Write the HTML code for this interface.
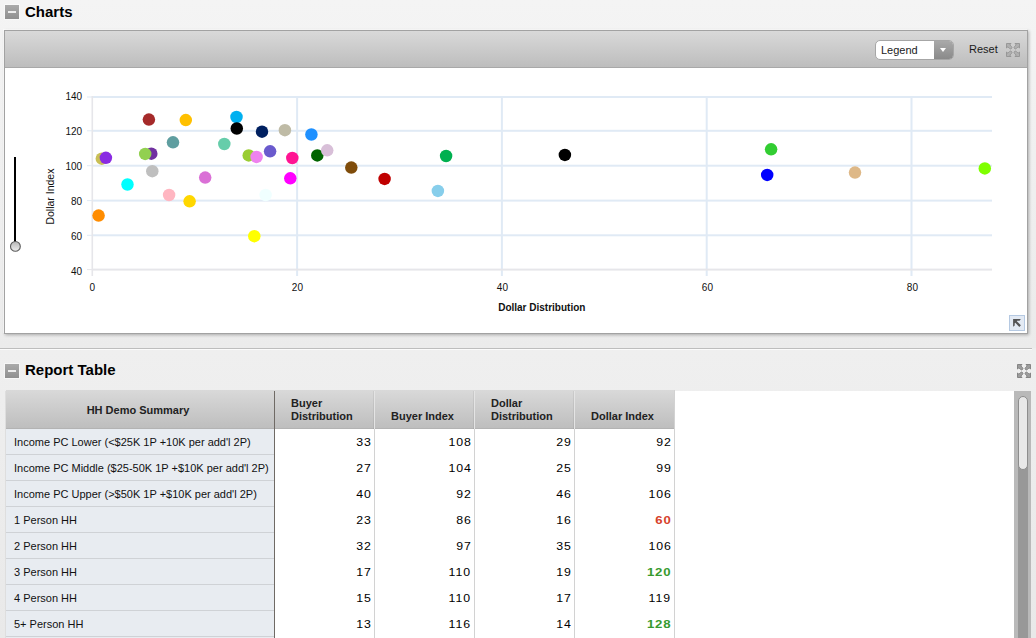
<!DOCTYPE html>
<html><head><meta charset="utf-8">
<style>
*{box-sizing:border-box;margin:0;padding:0}
html,body{width:1036px;height:638px;overflow:hidden}
body{position:relative;font-family:"Liberation Sans",sans-serif;color:#1a1a1a;background:#eeeeee}
.abs{position:absolute}
#topbg{left:0;top:0;width:1036px;height:348px;background:linear-gradient(#f4f4f4,#ebebeb)}
#botbg{left:0;top:350px;width:1036px;height:288px;background:linear-gradient(#efefef,#e9e9e9)}
.minus{position:absolute;width:14px;height:14px;background:linear-gradient(#aaaaaa,#8f8f8f);box-shadow:0 0 0 1px rgba(255,255,255,.45)}
.minus:after{content:"";position:absolute;left:3px;top:6px;width:8px;height:2px;background:#ececec}
.h1{position:absolute;font-weight:bold;font-size:15px;line-height:15px;color:#000;white-space:nowrap}
#panel{left:4px;top:30px;width:1024px;height:304px;border:1px solid #a2a2a2;background:#fff;box-shadow:-1px -1px 0 rgba(255,255,255,.55),1px 1px 3px rgba(0,0,0,.28)}
#phead{position:absolute;left:0;top:0;width:1022px;height:37px;border-bottom:1px solid #a8a8a8;background:linear-gradient(#d9d9d9,#bdbdbd)}
#legend{left:875px;top:40px;width:79px;height:20px;border:1px solid #a6a6a6;border-radius:5px;background:#fff;overflow:hidden}
#legend .btn{position:absolute;right:0;top:0;width:19px;height:18px;background:linear-gradient(#a9a9a9,#8a8a8a)}
#legend .tri{position:absolute;left:6px;top:7px;width:0;height:0;border-left:3.5px solid transparent;border-right:3.5px solid transparent;border-top:4px solid #fff}
#legend .txt{position:absolute;left:5px;top:3px;font-size:11px;line-height:12px;color:#1a1a1a}
.t11{position:absolute;font-size:11px;line-height:12px;white-space:nowrap}
#sep{left:0;top:348px;width:1032px;height:1px;background:#bdbdbd}
#sep2{left:0;top:349px;width:1032px;height:1px;background:#fbfbfb}
.thead{background:linear-gradient(#d9d9d9,#bebebe);border-bottom:1px solid #b3b3b3}
.th{position:absolute;font-weight:bold;font-size:11px;line-height:13px;color:#222;white-space:nowrap}
.td{position:absolute;font-size:11px;line-height:12px;color:#111;white-space:nowrap}
.num{position:absolute;font-size:11px;line-height:12px;color:#000;white-space:nowrap;letter-spacing:0.8px;transform:scaleX(1.12);transform-origin:100% 50%}
.num.bad{color:#d6412a;font-weight:bold;letter-spacing:0.7px;transform:scaleX(1.2)}
.num.good{color:#379a2e;font-weight:bold;letter-spacing:0.7px;transform:scaleX(1.2)}
</style></head>
<body>
<div id="topbg" class="abs"></div>
<div id="botbg" class="abs"></div>
<div class="minus" style="left:5px;top:5px"></div>
<div class="h1" style="left:25px;top:4px">Charts</div>

<div id="panel" class="abs"><div id="phead"></div></div>
<!--CHART-->
<svg class="abs" style="left:0;top:0" width="1036" height="340">
<rect x="92" y="96.00" width="900" height="2" fill="#e0eaf5"/>
<rect x="87" y="96.50" width="5" height="1" fill="#e0eaf5"/>
<rect x="92" y="129.80" width="900" height="2" fill="#e0eaf5"/>
<rect x="87" y="130.30" width="5" height="1" fill="#e0eaf5"/>
<rect x="92" y="164.70" width="900" height="2" fill="#e0eaf5"/>
<rect x="87" y="165.20" width="5" height="1" fill="#e0eaf5"/>
<rect x="92" y="199.60" width="900" height="2" fill="#e0eaf5"/>
<rect x="87" y="200.10" width="5" height="1" fill="#e0eaf5"/>
<rect x="92" y="234.30" width="900" height="2" fill="#e0eaf5"/>
<rect x="87" y="234.80" width="5" height="1" fill="#e0eaf5"/>
<rect x="296.10" y="96" width="2" height="180" fill="#e0eaf5"/>
<rect x="500.90" y="96" width="2" height="180" fill="#e0eaf5"/>
<rect x="705.70" y="96" width="2" height="180" fill="#e0eaf5"/>
<rect x="910.50" y="96" width="2" height="180" fill="#e0eaf5"/>
<rect x="92" y="268.60" width="900" height="2" fill="#e6e6ea"/>
<rect x="87" y="269.10" width="5" height="1" fill="#e6e6ea"/>
<rect x="91.5" y="96" width="1.6" height="180" fill="#e6e6ea"/>
<text x="82.2" y="99.60" text-anchor="end" font-size="10" fill="#111">140</text>
<text x="82.2" y="134.60" text-anchor="end" font-size="10" fill="#111">120</text>
<text x="82.2" y="169.60" text-anchor="end" font-size="10" fill="#111">100</text>
<text x="82.2" y="204.60" text-anchor="end" font-size="10" fill="#111">80</text>
<text x="82.2" y="239.60" text-anchor="end" font-size="10" fill="#111">60</text>
<text x="82.2" y="274.60" text-anchor="end" font-size="10" fill="#111">40</text>
<text x="92.40" y="290.5" text-anchor="middle" font-size="10" fill="#111">0</text>
<text x="297.40" y="290.5" text-anchor="middle" font-size="10" fill="#111">20</text>
<text x="502.40" y="290.5" text-anchor="middle" font-size="10" fill="#111">40</text>
<text x="707.40" y="290.5" text-anchor="middle" font-size="10" fill="#111">60</text>
<text x="912.40" y="290.5" text-anchor="middle" font-size="10" fill="#111">80</text>
<text x="541.8" y="310.8" text-anchor="middle" font-size="10" font-weight="bold" fill="#111">Dollar Distribution</text>
<text transform="translate(53.9,196.6) rotate(-90)" text-anchor="middle" font-size="10.5" fill="#111">Dollar Index</text>
<circle cx="98.6" cy="215.6" r="6.25" fill="#ff8c00"/>
<circle cx="101.8" cy="158.7" r="6.25" fill="#c9bf55"/>
<circle cx="105.9" cy="157.8" r="6.25" fill="#8a2be2"/>
<circle cx="127.5" cy="184.5" r="6.25" fill="#00ffff"/>
<circle cx="151.3" cy="153.7" r="6.25" fill="#7030a0"/>
<circle cx="145.2" cy="153.9" r="6.25" fill="#92d050"/>
<circle cx="148.9" cy="119.6" r="6.25" fill="#a52a2a"/>
<circle cx="152.3" cy="171.2" r="6.25" fill="#bfbfbf"/>
<circle cx="169.1" cy="195.0" r="6.25" fill="#ffb6c1"/>
<circle cx="173.0" cy="142.3" r="6.25" fill="#5f9ea0"/>
<circle cx="185.8" cy="120.1" r="6.25" fill="#ffc000"/>
<circle cx="189.6" cy="201.3" r="6.25" fill="#ffd700"/>
<circle cx="205.2" cy="177.6" r="6.25" fill="#da70d6"/>
<circle cx="224.3" cy="144.0" r="6.25" fill="#66cdaa"/>
<circle cx="236.5" cy="117.0" r="6.25" fill="#00b0f0"/>
<circle cx="236.8" cy="128.5" r="6.25" fill="#000000"/>
<circle cx="248.7" cy="155.4" r="6.25" fill="#9acd32"/>
<circle cx="254.3" cy="236.2" r="6.25" fill="#ffff00"/>
<circle cx="256.6" cy="156.9" r="6.25" fill="#ee82ee"/>
<circle cx="262.0" cy="131.7" r="6.25" fill="#002060"/>
<circle cx="265.6" cy="195.0" r="6.25" fill="#f0ffff"/>
<circle cx="270.1" cy="151.3" r="6.25" fill="#6a5acd"/>
<circle cx="284.9" cy="130.2" r="6.25" fill="#bfbba6"/>
<circle cx="290.3" cy="178.3" r="6.25" fill="#ff00ff"/>
<circle cx="292.3" cy="158.0" r="6.25" fill="#ff1493"/>
<circle cx="311.4" cy="134.5" r="6.25" fill="#1e90ff"/>
<circle cx="317.3" cy="155.4" r="6.25" fill="#006400"/>
<circle cx="327.2" cy="150.3" r="6.25" fill="#d8bfd8"/>
<circle cx="351.3" cy="167.6" r="6.25" fill="#7f4c0a"/>
<circle cx="384.6" cy="178.9" r="6.25" fill="#c00000"/>
<circle cx="437.9" cy="190.9" r="6.25" fill="#87ceeb"/>
<circle cx="446.1" cy="156.0" r="6.25" fill="#00b050"/>
<circle cx="564.9" cy="154.9" r="6.25" fill="#000000"/>
<circle cx="767.2" cy="174.9" r="6.25" fill="#0000ff"/>
<circle cx="771.1" cy="149.3" r="6.25" fill="#32cd32"/>
<circle cx="855.0" cy="172.6" r="6.25" fill="#deb887"/>
<circle cx="984.8" cy="168.4" r="6.25" fill="#7fff00"/>
<rect x="14" y="157" width="2" height="85" fill="#000"/>
<defs><linearGradient id="kg" x1="0" y1="0" x2="0" y2="1"><stop offset="0" stop-color="#b5b5b5"/><stop offset="1" stop-color="#efefef"/></linearGradient></defs>
<circle cx="15.4" cy="246.4" r="4.9" fill="url(#kg)" stroke="#5a5a5a" stroke-width="1.1"/>
</svg>
<!--/CHART-->

<div id="legend" class="abs"><div class="txt">Legend</div><div class="btn"><div class="tri"></div></div></div>
<div class="t11" style="left:969px;top:43px;color:#1a1a1a">Reset</div>

<div id="sep" class="abs"></div>
<div id="sep2" class="abs"></div>

<div class="minus" style="left:5px;top:364px"></div>
<div class="h1" style="left:25px;top:362px">Report Table</div>

<!--ICONS-->
<svg class="abs" style="left:1006px;top:43px" width="14" height="14" viewBox="0 0 14 14">
<defs><path id="arr" d="M0.5 0.5H5L3.8 1.9L5.6 3.7A1.35 1.35 0 0 1 3.7 5.6L1.9 3.8L0.5 5Z"/></defs>
<g fill="#b0b0b0" stroke="#939393" stroke-width="0.9" stroke-linejoin="round">
<use href="#arr"/><use href="#arr" transform="matrix(-1 0 0 1 14 0)"/><use href="#arr" transform="matrix(1 0 0 -1 0 14)"/><use href="#arr" transform="matrix(-1 0 0 -1 14 14)"/>
</g></svg>
<svg class="abs" style="left:1017px;top:364px" width="14" height="14" viewBox="0 0 14 14">
<g fill="#9c9c9c" stroke="#7e7e7e" stroke-width="0.9" stroke-linejoin="round">
<use href="#arr"/><use href="#arr" transform="matrix(-1 0 0 1 14 0)"/><use href="#arr" transform="matrix(1 0 0 -1 0 14)"/><use href="#arr" transform="matrix(-1 0 0 -1 14 14)"/>
</g></svg>
<div class="abs" style="left:1009px;top:315px;width:16px;height:16px;border:1px solid #b5c9e2;background:#e3eaf4"></div>
<svg class="abs" style="left:1009px;top:315px" width="16" height="16" viewBox="0 0 16 16">
<path d="M4.1 4.1H11.8L10.6 5.7H5.7V10.6L4.1 11.8Z M5.7 5.7H8.2L5.7 8.2Z" fill="#555"/><path d="M6.3 6.3L11.1 11.1" stroke="#555" stroke-width="2.2"/>
</svg>

<!--/ICONS-->
<!--TABLE-->
<div class="abs" style="left:5px;top:391px;width:1009px;height:247px;background:#fff;border-left:1px solid #dedede"></div>
<div class="abs thead" style="left:6px;top:390px;width:668px;height:39px"></div>
<div class="abs" style="left:373px;top:391px;width:1px;height:38px;background:rgba(0,0,0,.06)"></div>
<div class="abs" style="left:374px;top:391px;width:1px;height:38px;background:#e4e4e4"></div>
<div class="abs" style="left:473px;top:391px;width:1px;height:38px;background:rgba(0,0,0,.06)"></div>
<div class="abs" style="left:474px;top:391px;width:1px;height:38px;background:#e4e4e4"></div>
<div class="abs" style="left:573px;top:391px;width:1px;height:38px;background:rgba(0,0,0,.06)"></div>
<div class="abs" style="left:574px;top:391px;width:1px;height:38px;background:#e4e4e4"></div>
<div class="abs" style="left:674px;top:390px;width:1px;height:248px;background:#d2d2d2"></div>
<div class="abs" style="left:6px;top:429px;width:268px;height:209px;background:#e8ecf1"></div>
<div class="abs" style="left:374px;top:429px;width:1px;height:209px;background:#d2d2d2"></div>
<div class="abs" style="left:474px;top:429px;width:1px;height:209px;background:#d2d2d2"></div>
<div class="abs" style="left:574px;top:429px;width:1px;height:209px;background:#d2d2d2"></div>
<div class="abs" style="left:274px;top:391px;width:1px;height:247px;background:#6f6a65"></div>
<div class="th" style="left:4px;top:404px;width:268px;text-align:center">HH Demo Summary</div>
<div class="th" style="left:291px;top:397px">Buyer<br>Distribution</div>
<div class="th" style="left:391px;top:410px">Buyer Index</div>
<div class="th" style="left:491px;top:397px">Dollar<br>Distribution</div>
<div class="th" style="left:591px;top:410px">Dollar Index</div>
<div class="abs" style="left:6px;top:454px;width:268px;height:1px;background:#cfd2d6"></div>
<div class="td" style="left:14px;top:436px">Income PC Lower (&lt;$25K 1P +10K per add'l 2P)</div>
<div class="num" style="right:664.6px;top:436px">33</div>
<div class="num" style="right:564.6px;top:436px">108</div>
<div class="num" style="right:464.6px;top:436px">29</div>
<div class="num" style="right:364.6px;top:436px">92</div>
<div class="abs" style="left:6px;top:480px;width:268px;height:1px;background:#cfd2d6"></div>
<div class="td" style="left:14px;top:462px">Income PC Middle ($25-50K 1P +$10K per add'l 2P)</div>
<div class="num" style="right:664.6px;top:462px">27</div>
<div class="num" style="right:564.6px;top:462px">104</div>
<div class="num" style="right:464.6px;top:462px">25</div>
<div class="num" style="right:364.6px;top:462px">99</div>
<div class="abs" style="left:6px;top:506px;width:268px;height:1px;background:#cfd2d6"></div>
<div class="td" style="left:14px;top:488px">Income PC Upper (&gt;$50K 1P +$10K per add'l 2P)</div>
<div class="num" style="right:664.6px;top:488px">40</div>
<div class="num" style="right:564.6px;top:488px">92</div>
<div class="num" style="right:464.6px;top:488px">46</div>
<div class="num" style="right:364.6px;top:488px">106</div>
<div class="abs" style="left:6px;top:532px;width:268px;height:1px;background:#cfd2d6"></div>
<div class="td" style="left:14px;top:514px">1 Person HH</div>
<div class="num" style="right:664.6px;top:514px">23</div>
<div class="num" style="right:564.6px;top:514px">86</div>
<div class="num" style="right:464.6px;top:514px">16</div>
<div class="num bad" style="right:364.6px;top:514px">60</div>
<div class="abs" style="left:6px;top:558px;width:268px;height:1px;background:#cfd2d6"></div>
<div class="td" style="left:14px;top:540px">2 Person HH</div>
<div class="num" style="right:664.6px;top:540px">32</div>
<div class="num" style="right:564.6px;top:540px">97</div>
<div class="num" style="right:464.6px;top:540px">35</div>
<div class="num" style="right:364.6px;top:540px">106</div>
<div class="abs" style="left:6px;top:584px;width:268px;height:1px;background:#cfd2d6"></div>
<div class="td" style="left:14px;top:566px">3 Person HH</div>
<div class="num" style="right:664.6px;top:566px">17</div>
<div class="num" style="right:564.6px;top:566px">110</div>
<div class="num" style="right:464.6px;top:566px">19</div>
<div class="num good" style="right:364.6px;top:566px">120</div>
<div class="abs" style="left:6px;top:610px;width:268px;height:1px;background:#cfd2d6"></div>
<div class="td" style="left:14px;top:592px">4 Person HH</div>
<div class="num" style="right:664.6px;top:592px">15</div>
<div class="num" style="right:564.6px;top:592px">110</div>
<div class="num" style="right:464.6px;top:592px">17</div>
<div class="num" style="right:364.6px;top:592px">119</div>
<div class="abs" style="left:6px;top:636px;width:268px;height:1px;background:#cfd2d6"></div>
<div class="td" style="left:14px;top:618px">5+ Person HH</div>
<div class="num" style="right:664.6px;top:618px">13</div>
<div class="num" style="right:564.6px;top:618px">116</div>
<div class="num" style="right:464.6px;top:618px">14</div>
<div class="num good" style="right:364.6px;top:618px">128</div>
<div class="abs" style="left:1014px;top:391px;width:17px;height:247px;background:#b9b9b9"></div>
<div class="abs" style="left:1018px;top:466px;width:10px;height:172px;background:#989898"></div>
<div class="abs" style="left:1018px;top:396px;width:10px;height:74px;background:#e8e8e8;border:1px solid #8d8d8d;border-radius:5px"></div>
<!--/TABLE-->
</body></html>
